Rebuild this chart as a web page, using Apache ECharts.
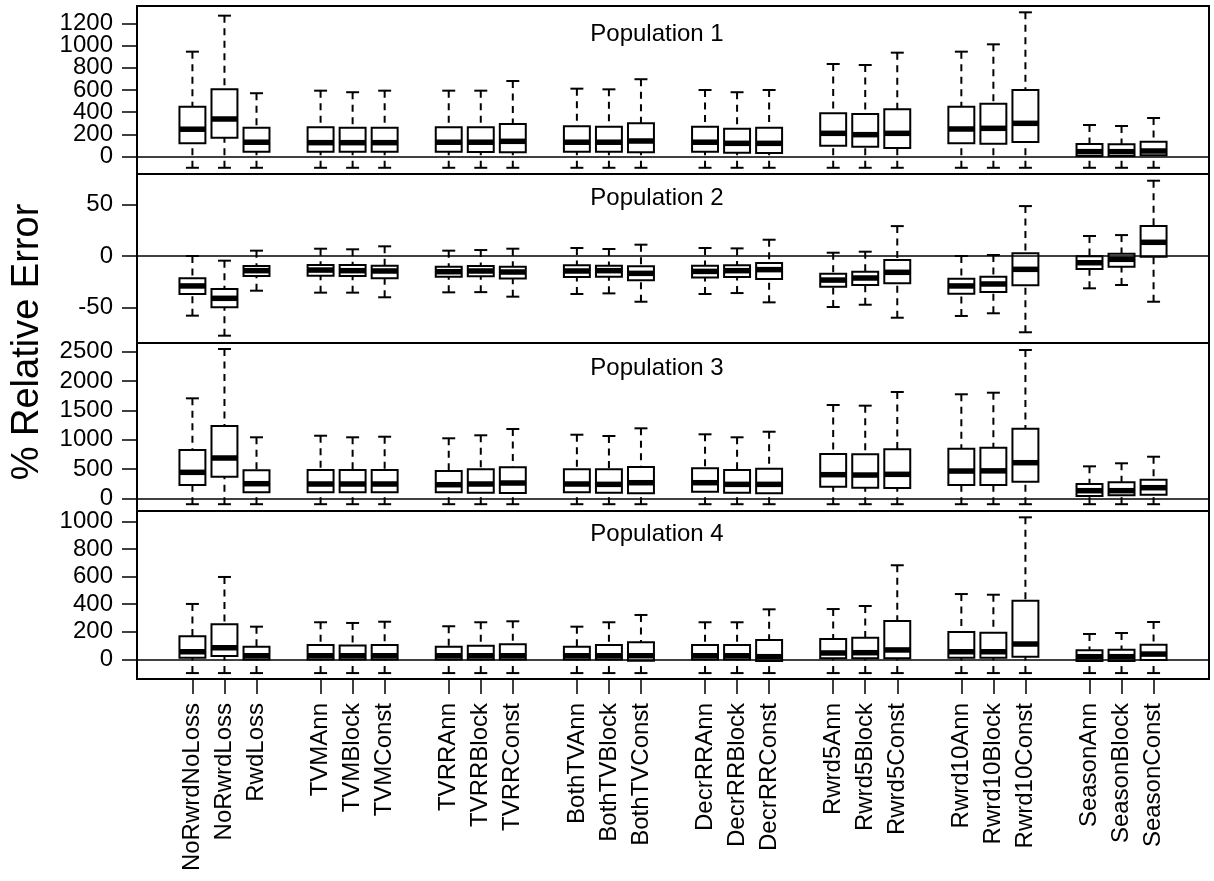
<!DOCTYPE html>
<html><head><meta charset="utf-8">
<script src="https://cdn.jsdelivr.net/npm/echarts@6/dist/echarts.min.js"></script>
<style>html,body{margin:0;padding:0;background:#fff}#c{width:1214px;height:881px}</style>
</head><body><div id="c"></div>
<script>
const categories = ['NoRwrdNoLoss','NoRwrdLoss','RwdLoss','TVMAnn','TVMBlock','TVMConst',
  'TVRRAnn','TVRRBlock','TVRRConst','BothTVAnn','BothTVBlock','BothTVConst',
  'DecrRRAnn','DecrRRBlock','DecrRRConst','Rwrd5Ann','Rwrd5Block','Rwrd5Const',
  'Rwrd10Ann','Rwrd10Block','Rwrd10Const','SeasonAnn','SeasonBlock','SeasonConst'];
const groupSize = 3;
const panelTitles = ['Population 1','Population 2','Population 3','Population 4'];
const yAxisTitle = '% Relative Error';

// [lower whisker, Q1, median, Q3, upper whisker]
const pop1 = [
  [-100,120,247,450,945],[-100,171,339,607,1269],[-100,45,130,261,571],
  [-100,45,126,264,594],[-100,45,126,261,580],[-100,45,126,261,594],
  [-100,45,130,264,594],[-100,42,130,264,594],[-100,40,138,294,681],
  [-100,45,130,273,612],[-100,45,130,270,606],[-100,40,141,300,697],
  [-100,45,130,270,600],[-100,36,120,252,580],[-100,33,120,261,600],
  [-100,99,210,390,834],[-100,90,198,384,825],[-100,78,210,426,936],
  [-100,120,249,450,945],[-100,117,255,477,1011],[-100,132,300,600,1299],
  [-100,6,45,114,285],[-100,6,45,111,276],[-100,12,51,135,348]];
const pop2 = [
  [-57.8,-36.8,-29,-21.6,0],[-77.2,-49.7,-41,-32,-4.5],[-33.6,-19.4,-14.2,-9.7,5.2],
  [-35.5,-19.1,-13.6,-8.7,7.1],[-35.5,-19.4,-14.2,-8.7,6.5],[-40,-21.6,-14.5,-9.4,9.4],
  [-35.2,-20,-15.2,-10.3,5.2],[-35,-19.7,-14.5,-9.7,5.8],[-39.4,-21.9,-15.5,-10.3,7.1],
  [-36.8,-20.3,-14.5,-9,7.8],[-36.2,-20,-14.2,-9.4,6.8],[-44.3,-23.5,-16.8,-10,11],
  [-36.8,-20.7,-14.9,-9.4,7.8],[-35.9,-20.3,-14.2,-9,7.4],[-44.9,-22.3,-13.2,-6.8,15.8],
  [-49.4,-29.7,-23.3,-17.1,3.2],[-47.2,-28.1,-21.3,-15.2,4.2],[-59.8,-26.5,-15.8,-3.9,29],
  [-58.1,-36.5,-29,-22,0],[-55.5,-34.9,-27.1,-20,1],[-73.9,-28.4,-12.9,2.6,48.4],
  [-31.3,-12.6,-6.5,-0.3,19.4],[-28.1,-10.3,-3.2,2.2,20.3],[-44.3,-0.6,13.3,29,73]];
const pop3 = [
  [-100,227,443,823,1704],[-100,368,687,1232,2545],[-100,102,249,477,1040],
  [-100,102,244,482,1067],[-100,102,244,482,1040],[-100,102,244,482,1050],
  [-100,102,232,465,1023],[-100,96,244,494,1074],[-100,90,261,528,1181],
  [-100,102,244,494,1084],[-100,96,238,494,1062],[-100,85,266,534,1193],
  [-100,113,266,511,1091],[-100,96,238,482,1040],[-100,85,238,505,1135],
  [-100,198,403,755,1590],[-100,181,397,750,1579],[-100,176,409,835,1812],
  [-100,227,465,846,1773],[-100,227,468,863,1800],[-100,283,607,1186,2528],
  [-100,39,130,244,545],[-100,51,130,273,597],[-100,62,181,317,709]];
const pop4 = [
  [-100,12,55,167,402],[-100,24,84,254,598],[-100,-2,26,92,237],
  [-100,-2,26,104,269],[-100,-2,26,101,264],[-100,-2,26,104,273],
  [-100,-2,26,92,240],[-100,-2,26,99,269],[-100,-2,26,109,276],
  [-100,-2,26,92,237],[-100,-2,26,104,269],[-100,-10,26,123,322],
  [-100,-2,26,104,269],[-100,-2,26,104,269],[-100,-12,19,140,363],
  [-100,7,46,147,365],[-100,7,48,157,387],[-100,7,68,278,683],
  [-100,12,55,198,474],[-100,12,55,193,469],[-100,19,111,426,1031],
  [-100,-12,19,65,184],[-100,-12,19,70,191],[-100,-5,38,106,271]];
const pops = [pop1, pop2, pop3, pop4];

const yTicks1 = [0,200,400,600,800,1000,1200];
const yTicks2 = [-50,0,50];
const yTicks3 = [0,500,1000,1500,2000,2500];
const yTicks4 = [0,200,400,600,800,1000];
const yTicks = [yTicks1, yTicks2, yTicks3, yTicks4];

// slot positions: groups of 3 separated by one empty slot
const positions = categories.map((c, i) => 1 + Math.floor(i / groupSize) * (groupSize + 1) + (i % groupSize));

const yRanges = [[-156, 1356], [-84.3, 79.5], [-216, 2647], [-143, 1077]];
const panelTop = [6, 174, 343, 511];
const panelH = [168, 169, 168, 168];
const titleY = [34, 198, 368, 534];
const FONT = '"Liberation Sans", Arial, sans-serif';

function renderBox(params, api) {
  const x = api.value(0);
  const lo = api.coord([x, api.value(1)]);
  const q1 = api.coord([x, api.value(2)]);
  const md = api.coord([x, api.value(3)]);
  const q3 = api.coord([x, api.value(4)]);
  const hi = api.coord([x, api.value(5)]);
  const w = api.size([0.81, 0])[0];
  const cx = lo[0];
  const st = {stroke: '#000', lineWidth: 2, fill: null};
  const dashed = {stroke: '#000', lineWidth: 2, lineDash: [7, 5.5], fill: null};
  return {
    type: 'group',
    children: [
      {type: 'line', shape: {x1: cx, y1: hi[1], x2: cx, y2: q3[1]}, style: dashed},
      {type: 'line', shape: {x1: cx, y1: lo[1], x2: cx, y2: q1[1]}, style: dashed},
      {type: 'line', shape: {x1: cx - w / 4, y1: hi[1], x2: cx + w / 4, y2: hi[1]}, style: st},
      {type: 'line', shape: {x1: cx - w / 4, y1: lo[1], x2: cx + w / 4, y2: lo[1]}, style: st},
      {type: 'rect', shape: {x: cx - w / 2, y: q3[1], width: w, height: q1[1] - q3[1]},
        style: {fill: '#fff', stroke: '#000', lineWidth: 2}},
      {type: 'line', shape: {x1: cx - w / 2, y1: md[1], x2: cx + w / 2, y2: md[1]},
        style: {stroke: '#000', lineWidth: 5.5, fill: null}}
    ]
  };
}

function makeYAxis(gridIndex, range, ticks) {
  return {
    type: 'value', gridIndex: gridIndex, min: range[0], max: range[1], position: 'left', offset: 0,
    axisLine: {show: false, onZero: false}, splitLine: {show: false},
    axisTick: {show: true, customValues: ticks, length: 15, lineStyle: {color: '#000', width: 1.5}},
    axisLabel: {show: true, customValues: ticks, fontSize: 24, color: '#000', fontFamily: FONT,
      margin: 24, hideOverlap: false, formatter: v => String(v)}
  };
}

const grids = [], xAxes = [], yAxes = [], series = [], graphics = [];
for (let i = 0; i < 4; i++) {
  grids.push({left: 137, right: 5, top: panelTop[i], height: panelH[i], show: true,
    borderColor: '#000', borderWidth: 2, backgroundColor: 'transparent'});
  const bottom = i === 3;
  xAxes.push({
    type: 'value', gridIndex: i, min: -0.73, max: 32.73, show: bottom, position: 'bottom',
    axisLine: {show: false, onZero: false}, splitLine: {show: false},
    axisTick: {show: bottom, customValues: positions, length: 15, lineStyle: {color: '#000', width: 1.5}},
    axisLabel: {show: bottom, customValues: positions, rotate: 90, fontSize: 24, color: '#000',
      fontFamily: FONT, margin: 24, hideOverlap: false,
      formatter: v => { const k = positions.indexOf(Math.round(v)); return k >= 0 ? categories[k] : ''; }}
  });
  // split tick labels over two overlapping axes so tightly packed labels are all drawn
  const evenTicks = yTicks[i].filter((v, k) => k % 2 === 0);
  const oddTicks = yTicks[i].filter((v, k) => k % 2 === 1);
  yAxes.push(makeYAxis(i, yRanges[i], evenTicks));
  series.push({
    type: 'custom', xAxisIndex: i, yAxisIndex: yAxes.length - 1, renderItem: renderBox,
    encode: {x: 0, y: [1, 2, 3, 4, 5]},
    data: pops[i].map((s, j) => [positions[j]].concat(s)),
    markLine: {silent: true, symbol: 'none', label: {show: false},
      lineStyle: {color: '#000', width: 1.5, type: 'solid'}, data: [{yAxis: 0}], animation: false}
  });
  yAxes.push(makeYAxis(i, yRanges[i], oddTicks));
  graphics.push({type: 'text', x: 657, y: titleY[i],
    style: {text: panelTitles[i], font: '24px ' + FONT, fill: '#000', align: 'center', verticalAlign: 'middle'}});
}
graphics.push({type: 'text', x: 28, y: 342, rotation: Math.PI / 2,
  style: {text: yAxisTitle, font: '38px ' + FONT, fill: '#000', align: 'center', verticalAlign: 'middle'}});

const chart = echarts.init(document.getElementById('c'), null, {renderer: 'canvas'});
chart.setOption({
  animation: false,
  backgroundColor: '#fff',
  grid: grids, xAxis: xAxes, yAxis: yAxes, series: series, graphic: graphics
});
</script></body></html>
